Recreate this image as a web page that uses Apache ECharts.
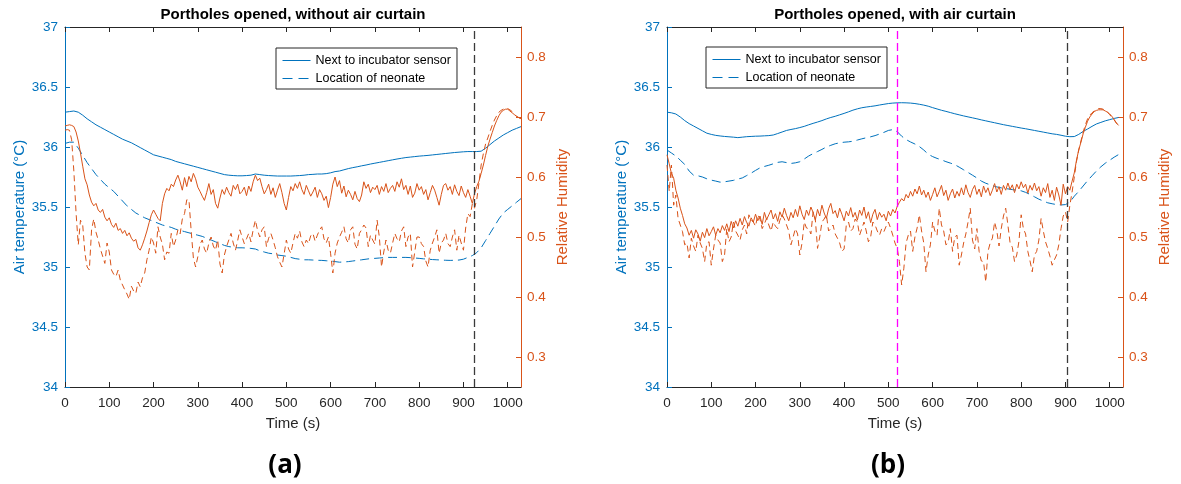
<!DOCTYPE html>
<html>
<head>
<meta charset="utf-8">
<script src="https://cdn.jsdelivr.net/npm/echarts@6/dist/echarts.min.js"></script>
<style>
  html, body { margin: 0; padding: 0; background: #ffffff; }
  #chart { width: 1181px; height: 484px; }
</style>
</head>
<body>
<div id="chart"></div>
<script>
// Incubator porthole test: air temperature (left axis) and relative humidity (right axis)
// at two points, for portholes opened without (a) and with (b) an air curtain.

const PANEL_TITLES = ['Portholes opened, without air curtain', 'Portholes opened, with air curtain'];
const PANEL_TAGS = ['(a)', '(b)'];
const SERIES_NAMES = ['Next to incubator sensor', 'Location of neonate'];
const RH_SERIES_NAMES = ['RH next to incubator sensor', 'RH at location of neonate'];

const TIME_TICKS = [0, 100, 200, 300, 400, 500, 600, 700, 800, 900, 1000];
const TEMP_TICKS = [34, 34.5, 35, 35.5, 36, 36.5, 37];
const RH_TICKS = [0.3, 0.4, 0.5, 0.6, 0.7, 0.8];
const TIME_RANGE = [0, 1030];
const TEMP_RANGE = [34, 37];
const RH_RANGE = [0.25, 0.85];

// Sampling intervals of the logged signals (seconds)
const TEMP_STEP_S = 10;
const RH_STEP_S = 5;

// Event markers (s): portholes closed in (a); curtain switched on and portholes closed in (b)
const EVENTS_A = [925];
const EVENTS_B_CURTAIN = [520];
const EVENTS_B_CLOSE = [905];

// ---- (a) without air curtain ----
const tempSensorA = [
  36.29, 36.295, 36.30, 36.29, 36.265, 36.235, 36.21, 36.185, 36.165, 36.145,
  36.125, 36.105, 36.085, 36.065, 36.05, 36.035, 36.015, 35.995, 35.975, 35.955,
  35.935, 35.925, 35.915, 35.905, 35.895, 35.88, 35.87, 35.86, 35.85, 35.84,
  35.83, 35.82, 35.81, 35.80, 35.79, 35.78, 35.77, 35.765, 35.762, 35.76,
  35.76, 35.762, 35.765, 35.775, 35.77, 35.765, 35.762, 35.76, 35.758, 35.758,
  35.758, 35.758, 35.76, 35.762, 35.765, 35.77, 35.772, 35.775, 35.775, 35.778,
  35.785, 35.795, 35.80, 35.81, 35.82, 35.828, 35.835, 35.843, 35.85, 35.858,
  35.865, 35.872, 35.879, 35.886, 35.893, 35.90, 35.906, 35.912, 35.916, 35.92,
  35.924, 35.927, 35.93, 35.934, 35.938, 35.942, 35.946, 35.95, 35.954, 35.957,
  35.96, 35.962, 35.962, 35.962, 35.965, 35.99, 36.02, 36.05, 36.075, 36.10,
  36.12, 36.14, 36.155, 36.17
];
const tempNeonateA = [
  36.03, 36.04, 36.04, 35.99, 35.93, 35.87, 35.82, 35.77, 35.73, 35.69,
  35.66, 35.63, 35.59, 35.55, 35.51, 35.48, 35.45, 35.43, 35.41, 35.395,
  35.38, 35.365, 35.35, 35.34, 35.33, 35.315, 35.305, 35.295, 35.285, 35.275,
  35.265, 35.255, 35.24, 35.225, 35.21, 35.195, 35.18, 35.17, 35.165, 35.16,
  35.16, 35.158, 35.155, 35.15, 35.135, 35.125, 35.115, 35.11, 35.10, 35.095,
  35.09, 35.08, 35.07, 35.065, 35.06, 35.06, 35.058, 35.056, 35.055, 35.052,
  35.05, 35.045, 35.04, 35.042, 35.045, 35.05, 35.055, 35.06, 35.065, 35.07,
  35.072, 35.075, 35.078, 35.08, 35.08, 35.08, 35.08, 35.08, 35.078, 35.075,
  35.072, 35.068, 35.065, 35.062, 35.06, 35.058, 35.056, 35.055, 35.056, 35.058,
  35.065, 35.08, 35.095, 35.12, 35.16, 35.22, 35.28, 35.34, 35.40, 35.45,
  35.48, 35.51, 35.54, 35.57
];
const rhSensorA = [
  0.685, 0.686, 0.687, 0.686, 0.684, 0.675, 0.66, 0.64, 0.618, 0.597,
  0.587, 0.57, 0.558, 0.552, 0.556, 0.545, 0.541, 0.546, 0.533, 0.527,
  0.532, 0.521, 0.516, 0.523, 0.511, 0.514, 0.506, 0.511, 0.502, 0.507,
  0.498, 0.493, 0.496, 0.482, 0.478, 0.487, 0.498, 0.51, 0.524, 0.537,
  0.545, 0.538, 0.531, 0.527, 0.556, 0.572, 0.581, 0.577, 0.588, 0.584,
  0.595, 0.603, 0.592, 0.578, 0.599, 0.584, 0.601, 0.592, 0.606, 0.597,
  0.583, 0.576, 0.568, 0.561, 0.574, 0.589, 0.571, 0.579, 0.556, 0.548,
  0.565, 0.579, 0.571, 0.583, 0.574, 0.568, 0.586, 0.579, 0.588, 0.572,
  0.576, 0.583, 0.569, 0.585, 0.576, 0.592, 0.603, 0.594, 0.598, 0.584,
  0.572, 0.579, 0.588, 0.571, 0.582, 0.566, 0.578, 0.589, 0.574, 0.556,
  0.545, 0.566, 0.584, 0.577, 0.589, 0.581, 0.592, 0.579, 0.571, 0.586,
  0.577, 0.568, 0.575, 0.583, 0.566, 0.579, 0.572, 0.561, 0.568, 0.549,
  0.566, 0.588, 0.6, 0.584, 0.594, 0.573, 0.585, 0.567, 0.578, 0.571,
  0.562, 0.576, 0.564, 0.559, 0.57, 0.592, 0.581, 0.588, 0.574, 0.583,
  0.579, 0.586, 0.571, 0.584, 0.576, 0.589, 0.574, 0.581, 0.586, 0.576,
  0.592, 0.583, 0.597, 0.579, 0.586, 0.571, 0.585, 0.566, 0.573, 0.589,
  0.578, 0.584, 0.571, 0.579, 0.562, 0.574, 0.586, 0.578, 0.566, 0.553,
  0.571, 0.586, 0.589, 0.578, 0.584, 0.571, 0.587, 0.576, 0.569, 0.585,
  0.574, 0.566, 0.579, 0.568, 0.556, 0.572, 0.584, 0.593, 0.606, 0.62,
  0.636, 0.651, 0.663, 0.674, 0.685, 0.694, 0.702, 0.708, 0.711, 0.713,
  0.713, 0.71, 0.707, 0.704, 0.701, 0.699, 0.697
];
const rhNeonateA = [
  0.678, 0.679, 0.678, 0.662, 0.61, 0.54, 0.487, 0.528, 0.52, 0.473,
  0.45, 0.445, 0.512, 0.53, 0.508, 0.495, 0.48, 0.468, 0.456, 0.49,
  0.475, 0.445, 0.438, 0.434, 0.445, 0.428, 0.42, 0.412, 0.405, 0.396,
  0.418, 0.41, 0.406, 0.425, 0.417, 0.432, 0.44, 0.462, 0.478, 0.5,
  0.49, 0.473, 0.517, 0.5, 0.488, 0.462, 0.475, 0.473, 0.506, 0.484,
  0.495, 0.512, 0.505, 0.53, 0.539, 0.562, 0.562, 0.51, 0.465, 0.45,
  0.467, 0.488, 0.495, 0.48, 0.473, 0.49, 0.5, 0.485, 0.478, 0.495,
  0.455, 0.44, 0.47, 0.484, 0.495, 0.506, 0.49, 0.478, 0.494, 0.512,
  0.5, 0.489, 0.497, 0.506, 0.492, 0.512, 0.528, 0.511, 0.5, 0.512,
  0.517, 0.484, 0.498, 0.506, 0.495, 0.482, 0.467, 0.458, 0.45, 0.472,
  0.495, 0.48, 0.473, 0.49, 0.506, 0.498, 0.51, 0.492, 0.484, 0.495,
  0.489, 0.502, 0.506, 0.493, 0.503, 0.512, 0.517, 0.497, 0.49, 0.5,
  0.472, 0.44, 0.473, 0.49, 0.5, 0.508, 0.517, 0.497, 0.49, 0.512,
  0.517, 0.488, 0.48, 0.506, 0.512, 0.52, 0.515, 0.484, 0.503, 0.495,
  0.488, 0.528, 0.5, 0.45, 0.475, 0.495, 0.478, 0.473, 0.49, 0.506,
  0.497, 0.492, 0.51, 0.517, 0.484, 0.5, 0.506, 0.45, 0.475, 0.5,
  0.5, 0.489, 0.484, 0.46, 0.45, 0.478, 0.49, 0.5, 0.512, 0.473,
  0.49, 0.495, 0.506, 0.489, 0.484, 0.5, 0.512, 0.478, 0.503, 0.49,
  0.478, 0.515, 0.539, 0.534, 0.555, 0.548, 0.562, 0.59, 0.62, 0.639,
  0.655, 0.665, 0.676, 0.686, 0.695, 0.702, 0.708, 0.711, 0.713, 0.714,
  0.714, 0.712, 0.709, 0.705, 0.701, 0.699, 0.697
];

// ---- (b) with air curtain ----
const tempSensorB = [
  36.29, 36.285, 36.275, 36.25, 36.22, 36.195, 36.175, 36.155, 36.135, 36.115,
  36.105, 36.097, 36.092, 36.088, 36.085, 36.082, 36.078, 36.082, 36.086, 36.088,
  36.09, 36.091, 36.093, 36.095, 36.1, 36.112, 36.125, 36.138, 36.146, 36.153,
  36.162, 36.172, 36.185, 36.197, 36.208, 36.22, 36.234, 36.246, 36.256, 36.268,
  36.28, 36.293, 36.307, 36.318, 36.327, 36.333, 36.338, 36.343, 36.35, 36.356,
  36.362, 36.366, 36.368, 36.369, 36.368, 36.366, 36.362, 36.356, 36.349, 36.34,
  36.328, 36.317, 36.306, 36.297, 36.287, 36.277, 36.268, 36.259, 36.251, 36.243,
  36.235, 36.226, 36.218, 36.21, 36.202, 36.194, 36.186, 36.179, 36.172, 36.165,
  36.158, 36.152, 36.145, 36.138, 36.131, 36.124, 36.117, 36.11, 36.105, 36.098,
  36.09, 36.086, 36.087, 36.105, 36.13, 36.15, 36.172, 36.192, 36.205, 36.218,
  36.228, 36.238, 36.246
];
const tempNeonateB = [
  35.975, 35.95, 35.925, 35.89, 35.855, 35.8, 35.765, 35.76, 35.75, 35.735,
  35.724, 35.716, 35.707, 35.71, 35.716, 35.722, 35.733, 35.742, 35.762, 35.782,
  35.805, 35.826, 35.838, 35.848, 35.86, 35.872, 35.877, 35.87, 35.863, 35.868,
  35.877, 35.9, 35.925, 35.945, 35.962, 35.98, 36.0, 36.014, 36.027, 36.035,
  36.04, 36.043, 36.048, 36.058, 36.068, 36.077, 36.085, 36.095, 36.108, 36.122,
  36.138, 36.145, 36.128, 36.09, 36.062, 36.042, 36.025, 36.004, 35.975, 35.94,
  35.92, 35.905, 35.893, 35.878, 35.866, 35.853, 35.832, 35.81, 35.788, 35.765,
  35.742, 35.716, 35.698, 35.685, 35.672, 35.663, 35.656, 35.651, 35.645, 35.64,
  35.635, 35.622, 35.605, 35.585, 35.565, 35.55, 35.535, 35.527, 35.52, 35.517,
  35.52, 35.54, 35.59, 35.63, 35.675, 35.72, 35.76, 35.8, 35.835, 35.865,
  35.89, 35.915, 35.937
];
const rhSensorB = [
  0.637, 0.622, 0.606, 0.598, 0.578, 0.565, 0.548, 0.536, 0.522, 0.515,
  0.503, 0.511, 0.498, 0.512, 0.505, 0.493, 0.508, 0.499, 0.514, 0.502,
  0.509, 0.517, 0.503, 0.514, 0.507, 0.519, 0.511, 0.522, 0.509, 0.526,
  0.515, 0.527, 0.518, 0.531, 0.52, 0.534, 0.524, 0.518, 0.532, 0.525,
  0.538, 0.527, 0.535, 0.521, 0.541, 0.529, 0.537, 0.545, 0.53, 0.539,
  0.526, 0.542, 0.533, 0.548, 0.536, 0.527, 0.541, 0.532, 0.546, 0.534,
  0.552, 0.538, 0.529, 0.545, 0.536, 0.55, 0.541, 0.528, 0.546, 0.535,
  0.553, 0.54, 0.531, 0.547, 0.556, 0.539, 0.544, 0.532, 0.548, 0.538,
  0.527, 0.543, 0.535, 0.549, 0.533, 0.541, 0.528, 0.545, 0.536, 0.55,
  0.531, 0.542, 0.524, 0.538, 0.546, 0.529, 0.541, 0.533, 0.538, 0.527,
  0.543, 0.535, 0.546, 0.54, 0.551, 0.558, 0.564, 0.56, 0.571, 0.565,
  0.576, 0.568, 0.58, 0.572, 0.585, 0.57, 0.578, 0.566, 0.575, 0.561,
  0.571, 0.582, 0.567, 0.576, 0.586, 0.569, 0.578, 0.561, 0.572, 0.58,
  0.565, 0.576, 0.568, 0.582, 0.57, 0.587, 0.574, 0.566, 0.579, 0.586,
  0.571, 0.58, 0.567, 0.585, 0.574, 0.582, 0.569, 0.578, 0.589, 0.575,
  0.584, 0.571, 0.586, 0.578, 0.59, 0.579, 0.587, 0.574, 0.588, 0.58,
  0.592, 0.582, 0.588, 0.573, 0.586, 0.578, 0.59, 0.577, 0.584, 0.568,
  0.582, 0.574, 0.589, 0.566, 0.578, 0.561, 0.583, 0.57, 0.553, 0.588,
  0.572, 0.584, 0.578, 0.593, 0.607, 0.628, 0.645, 0.658, 0.672, 0.683,
  0.693, 0.7, 0.705, 0.709, 0.711, 0.712, 0.712, 0.712, 0.71, 0.708,
  0.705, 0.701, 0.696, 0.69, 0.686
];
const rhNeonateB = [
  0.62, 0.576, 0.62, 0.553, 0.57, 0.531, 0.52, 0.509, 0.487, 0.49,
  0.465, 0.498, 0.485, 0.476, 0.503, 0.49, 0.481, 0.459, 0.49, 0.492,
  0.453, 0.48, 0.503, 0.495, 0.49, 0.459, 0.47, 0.514, 0.492, 0.5,
  0.525, 0.51, 0.503, 0.495, 0.512, 0.52, 0.505, 0.537, 0.528, 0.525,
  0.518, 0.537, 0.53, 0.514, 0.522, 0.531, 0.52, 0.51, 0.525, 0.518,
  0.514, 0.528, 0.537, 0.53, 0.52, 0.51, 0.487, 0.5, 0.514, 0.505,
  0.47, 0.49, 0.525, 0.515, 0.514, 0.505, 0.542, 0.53, 0.481, 0.5,
  0.525, 0.53, 0.537, 0.51, 0.514, 0.52, 0.505, 0.498, 0.49, 0.476,
  0.48, 0.52, 0.525, 0.51, 0.514, 0.53, 0.525, 0.503, 0.514, 0.525,
  0.51, 0.492, 0.5, 0.525, 0.52, 0.51, 0.503, 0.514, 0.509, 0.518,
  0.525, 0.515, 0.503, 0.49, 0.481, 0.459, 0.42, 0.448, 0.49, 0.503,
  0.51, 0.476, 0.5, 0.515, 0.537, 0.51, 0.49, 0.442, 0.47, 0.487,
  0.525, 0.51, 0.503, 0.548, 0.52, 0.51, 0.487, 0.49, 0.514, 0.476,
  0.5, 0.503, 0.453, 0.47, 0.49, 0.505, 0.525, 0.548, 0.495, 0.48,
  0.514, 0.476, 0.46, 0.459, 0.425, 0.476, 0.49, 0.498, 0.525, 0.51,
  0.485, 0.514, 0.535, 0.548, 0.52, 0.49, 0.483, 0.459, 0.47, 0.493,
  0.537, 0.514, 0.505, 0.476, 0.46, 0.442, 0.47, 0.476, 0.495, 0.531,
  0.51, 0.492, 0.481, 0.468, 0.453, 0.462, 0.47, 0.487, 0.514, 0.535,
  0.542, 0.525, 0.553, 0.575, 0.6, 0.626, 0.645, 0.66, 0.675, 0.687,
  0.697, 0.703, 0.707, 0.71, 0.712, 0.714, 0.714, 0.713, 0.711, 0.708,
  0.704, 0.699, 0.695, 0.69, 0.686
];

// ---- styling ----
const BLUE = '#0072BD';
const ORANGE = '#D95319';
const INK = '#262626';
const FONT = '"Liberation Sans", Arial, Helvetica, sans-serif';
const TAG_FONT = 'bold 26px "Open Sans", "Noto Sans", sans-serif';
const TEMP_DASH = [9, 5];
const RH_DASH = [6, 4];
const EVENT_DASH = [8, 4];
const GRIDS = [
  { left: 65, top: 27, width: 456, height: 360 },
  { left: 667, top: 27, width: 456, height: 360 }
];

// pair each sample with its time stamp (sample index x sampling interval)
function timed(values, step) {
  return values.map((v, i) => [i * step, v]);
}

const plainNumber = v => String(v);

function xAxes(g) {
  return [
    {
      type: 'value', gridIndex: g, position: 'bottom',
      min: TIME_RANGE[0], max: TIME_RANGE[1],
      axisLine: { show: true, onZero: false, lineStyle: { color: INK, width: 1 } },
      axisTick: { show: true, inside: true, length: 5, customValues: TIME_TICKS, lineStyle: { color: INK } },
      axisLabel: { show: true, customValues: TIME_TICKS, formatter: plainNumber, color: INK, fontSize: 13.5, fontFamily: FONT, margin: 9 },
      splitLine: { show: false },
      name: 'Time (s)', nameLocation: 'middle', nameGap: 29,
      nameTextStyle: { color: INK, fontSize: 15, fontFamily: FONT }
    },
    {
      type: 'value', gridIndex: g, position: 'top',
      min: TIME_RANGE[0], max: TIME_RANGE[1],
      axisLine: { show: true, onZero: false, lineStyle: { color: INK, width: 1 } },
      axisTick: { show: true, inside: true, length: 5, customValues: TIME_TICKS, lineStyle: { color: INK } },
      axisLabel: { show: false },
      splitLine: { show: false }
    }
  ];
}

function yAxes(g, leftGap, rightGap) {
  return [
    {
      type: 'value', gridIndex: g, position: 'left',
      min: TEMP_RANGE[0], max: TEMP_RANGE[1],
      axisLine: { show: true, onZero: false, lineStyle: { color: BLUE, width: 1 } },
      axisTick: { show: true, inside: true, length: 5, customValues: TEMP_TICKS, lineStyle: { color: BLUE } },
      axisLabel: { show: true, customValues: TEMP_TICKS, formatter: plainNumber, color: BLUE, fontSize: 13.5, fontFamily: FONT, margin: 7 },
      splitLine: { show: false },
      name: 'Air temperature (°C)', nameLocation: 'middle', nameRotate: 90, nameGap: leftGap,
      nameTextStyle: { color: BLUE, fontSize: 15, fontFamily: FONT }
    },
    {
      type: 'value', gridIndex: g, position: 'right',
      min: RH_RANGE[0], max: RH_RANGE[1],
      axisLine: { show: true, onZero: false, lineStyle: { color: ORANGE, width: 1 } },
      axisTick: { show: true, inside: true, length: 5, customValues: RH_TICKS, lineStyle: { color: ORANGE } },
      axisLabel: { show: true, customValues: RH_TICKS, formatter: plainNumber, color: ORANGE, fontSize: 13.5, fontFamily: FONT, margin: 6 },
      splitLine: { show: false },
      name: 'Relative Humidity', nameLocation: 'middle', nameRotate: 90, nameGap: rightGap,
      nameTextStyle: { color: ORANGE, fontSize: 15, fontFamily: FONT }
    }
  ];
}

function lineSeries(name, data, g, yIdx, color, dash, extra) {
  return Object.assign({
    name: name, type: 'line', xAxisIndex: 2 * g, yAxisIndex: 2 * g + yIdx,
    data: data, showSymbol: false, symbol: 'none', smooth: false,
    lineStyle: { color: color, width: 1, type: dash || 'solid' },
    itemStyle: { color: color },
    emphasis: { disabled: true }, silent: true
  }, extra || {});
}

function eventLines(times, color, dash) {
  return times.map(t => ({
    xAxis: t,
    lineStyle: { color: color, type: dash, width: 1.3 }
  }));
}

function panelSeries(g, tS, tN, rS, rN, marks) {
  return [
    lineSeries(SERIES_NAMES[0], timed(tS, TEMP_STEP_S), g, 0, BLUE, 'solid'),
    lineSeries(SERIES_NAMES[1], timed(tN, TEMP_STEP_S), g, 0, BLUE, TEMP_DASH),
    lineSeries(RH_SERIES_NAMES[0], timed(rS, RH_STEP_S), g, 1, ORANGE, 'solid'),
    lineSeries(RH_SERIES_NAMES[1], timed(rN, RH_STEP_S), g, 1, ORANGE, RH_DASH, {
      markLine: {
        silent: true, symbol: ['none', 'none'], animation: false,
        label: { show: false },
        data: marks
      }
    })
  ];
}

function legendAt(left, top) {
  return {
    data: [
      { name: SERIES_NAMES[0], lineStyle: { type: 'solid', width: 1, color: BLUE } },
      { name: SERIES_NAMES[1], lineStyle: { type: [10, 6], width: 1, color: BLUE } }
    ],
    orient: 'vertical', left: left, top: top,
    itemWidth: 28, itemHeight: 12, itemGap: 5,
    padding: [6, 6, 4, 6],
    itemStyle: { opacity: 0 },
    borderColor: INK, borderWidth: 1, borderRadius: 0, backgroundColor: '#ffffff',
    selectedMode: false,
    textStyle: { color: '#000000', fontSize: 12.5, fontFamily: FONT }
  };
}

function centerText(x, y, text, font) {
  return {
    type: 'text', x: x, y: y, silent: true,
    style: { text: text, fill: '#000000', font: font, textAlign: 'center', textVerticalAlign: 'middle' }
  };
}

const chart = echarts.init(document.getElementById('chart'), null, { renderer: 'canvas' });

chart.setOption({
  animation: false,
  backgroundColor: '#ffffff',
  grid: GRIDS.map(g => Object.assign({ containLabel: false }, g)),
  xAxis: xAxes(0).concat(xAxes(1)),
  yAxis: yAxes(0, 38, 34).concat(yAxes(1, 38, 34)),
  legend: [legendAt(276, 48), legendAt(706, 47)],
  series: panelSeries(0, tempSensorA, tempNeonateA, rhSensorA, rhNeonateA,
      eventLines(EVENTS_A, '#3a3a3a', EVENT_DASH))
    .concat(panelSeries(1, tempSensorB, tempNeonateB, rhSensorB, rhNeonateB,
      eventLines(EVENTS_B_CURTAIN, '#ff00ff', EVENT_DASH).concat(eventLines(EVENTS_B_CLOSE, '#3a3a3a', EVENT_DASH)))),
  graphic: [
    centerText(GRIDS[0].left + GRIDS[0].width / 2, 15, PANEL_TITLES[0], 'bold 15px ' + FONT),
    centerText(GRIDS[1].left + GRIDS[1].width / 2, 15, PANEL_TITLES[1], 'bold 15px ' + FONT),
    centerText(285, 466, PANEL_TAGS[0], TAG_FONT),
    centerText(888, 466, PANEL_TAGS[1], TAG_FONT)
  ]
});
</script>
</body>
</html>
